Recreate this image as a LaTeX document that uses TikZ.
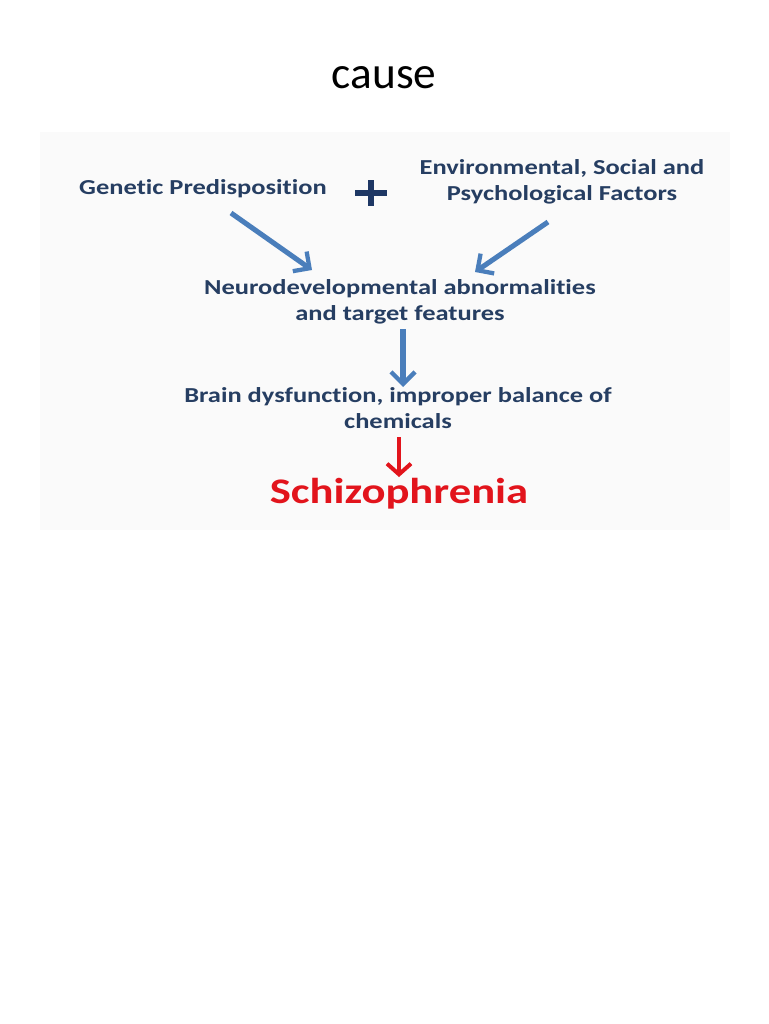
\documentclass[tikz,border=0pt]{standalone}
\usepackage{fontspec}
\setmainfont{Carlito}
\newfontfamily\widefont[FakeStretch=1.24,Ligatures=NoCommon]{Carlito}
\usetikzlibrary{arrows.meta,calc}
\definecolor{txtblue}{RGB}{38,62,98}
\definecolor{arrblue}{RGB}{74,126,187}
\definecolor{plusblue}{RGB}{30,55,100}
\definecolor{redc}{RGB}{226,20,28}
\definecolor{bgc}{RGB}{250,250,250}
\tikzset{
  lbl/.style={font=\widefont\bfseries\fontsize{16}{19.2}\selectfont, text=txtblue, align=center, inner sep=0pt},
  barrow/.style={draw=arrblue, line width=3.8pt, -{Straight Barb[length=9pt,width=18pt,line width=3.2pt]}},
  rarrow/.style={draw=redc, line width=3.4pt, -{Straight Barb[length=8pt,width=18pt,line width=3pt]}}
}
\begin{document}
\begin{tikzpicture}[x=0.75pt,y=-0.75pt]
\useasboundingbox (0,0) rectangle (768,1024);
\fill[white] (0,0) rectangle (768,1024);
\fill[bgc] (40,132) rectangle (730,530);
\node[font=\fontsize{34}{40}\selectfont, inner sep=0pt] (title) at (384,78) {cause};
\node[lbl] (gen) at (203,189) {Genetic Predisposition};
\node[lbl] (env) at (562,182) {Environmental, Social and\\Psychological Factors};
\coordinate (plus) at (371,193);
\draw[plusblue, line width=4.8pt] ($(plus)+(-16,0)$) -- ($(plus)+(16,0)$);
\draw[plusblue, line width=4.8pt] ($(plus)+(0,-13)$) -- ($(plus)+(0,13)$);
\node[lbl] (neuro) at (400,302) {Neurodevelopmental abnormalities\\and target features};
\node[lbl] (brain) at (398,408) {Brain dysfunction, improper balance of\\chemicals};
\node[font=\widefont\bfseries\fontsize{27}{32}\selectfont, text=redc, inner sep=0pt] (schiz) at (399,494) {Schizophrenia};
\coordinate (a1s) at (231,213);
\coordinate (a1e) at (312,270);
\coordinate (a2s) at (548,222);
\coordinate (a2e) at (475,272);
\coordinate (a3s) at (403,329);
\coordinate (a3e) at (403,387);
\coordinate (a4s) at (399,437);
\coordinate (a4e) at (399,477);
\draw[barrow] (a1s) -- (a1e);
\draw[barrow] (a2s) -- (a2e);
\draw[barrow] (a3s) -- (a3e);
\draw[rarrow] (a4s) -- (a4e);
\end{tikzpicture}
\end{document}
